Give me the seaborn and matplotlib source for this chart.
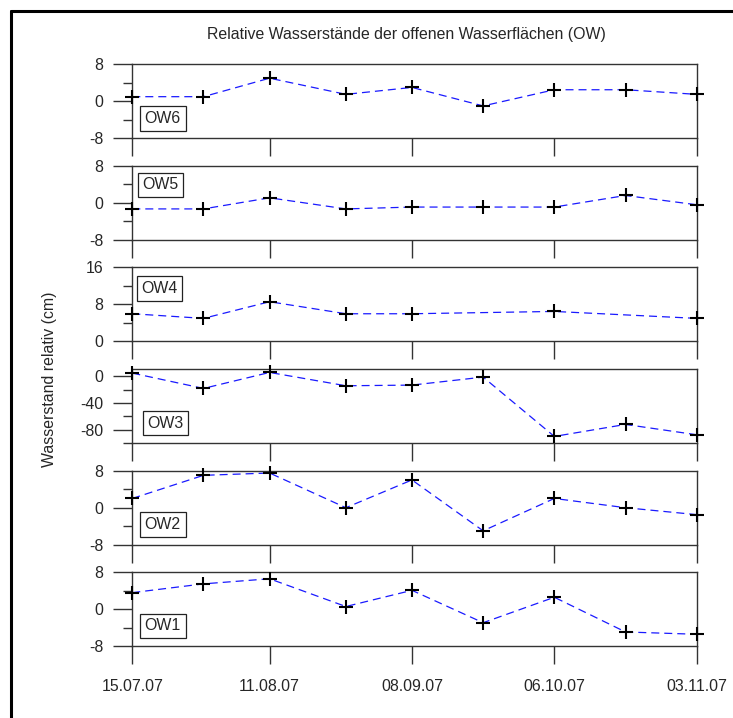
import numpy as np
import pandas as pd
import matplotlib
matplotlib.use("Agg")
import matplotlib.pyplot as plt
import matplotlib.dates as mdates
from matplotlib.lines import Line2D
import seaborn as sns

# ---- data ----
dates = ["2007-07-15", "2007-07-29", "2007-08-11", "2007-08-26", "2007-09-08",
         "2007-09-22", "2007-10-06", "2007-10-20", "2007-11-03"]
ow6 = [1.0, 1.0, 5.0, 1.5, 3.0, -1.0, 2.5, 2.5, 1.5]
ow5 = [-1.3, -1.3, 1.1, -1.3, -0.9, -0.9, -0.9, 1.6, -0.4]
ow4 = [6.0, 5.0, 8.6, 6.0, 6.0, None, 6.5, None, 5.0]
ow3 = [5.0, -18.0, 6.0, -14.0, -13.0, -1.0, -90.0, -72.0, -87.5]
ow2 = [2.0, 7.0, 7.5, 0.0, 6.0, -5.0, 2.0, 0.0, -1.5]
ow1 = [3.6, 5.5, 6.6, 0.6, 4.1, -2.9, 2.6, -4.9, -5.4]

panel_names = ["OW6", "OW5", "OW4", "OW3", "OW2", "OW1"]
panel_values = [ow6, ow5, ow4, ow3, ow2, ow1]
panel_ylims = [(-8, 8), (-8, 8), (0, 16), (-100, 11), (-8, 8), (-8, 8)]
panel_major = [[-8, 0, 8], [-8, 0, 8], [0, 8, 16], [-80, -40, 0], [-8, 0, 8], [-8, 0, 8]]
panel_minor = [[-4, 4], [-4, 4], [4, 12], [-100, -60, -20], [-4, 4], [-4, 4]]
label_pos = [(0.054, 0.265), (0.050, 0.745), (0.048, 0.716), (0.059, 0.27), (0.054, 0.27), (0.054, 0.275)]
tick_dates = ["2007-07-15", "2007-08-11", "2007-09-08", "2007-10-06", "2007-11-03"]
title = "Relative Wasserstände der offenen Wasserflächen (OW)"
ylabel = "Wasserstand relativ (cm)"

# ---- style ----
sns.set_style("white")
plt.rcParams["font.family"] = ["Liberation Sans", "DejaVu Sans"]
plt.rcParams["axes.unicode_minus"] = False
FS = 11.4
SPINE = "#333333"

W, H = 733, 718
fig = plt.figure(figsize=(W / 100, H / 100), dpi=100)

left_px, right_px = 132.3, 696.7
top0, period, height = 64.3, 101.6, 74.0

x0 = pd.Timestamp(dates[0])
x1 = pd.Timestamp(dates[-1])

for i, (name, vals) in enumerate(zip(panel_names, panel_values)):
    top = top0 + i * period
    ax = fig.add_axes([left_px / W, 1 - (top + height) / H,
                       (right_px - left_px) / W, height / H])
    df = pd.DataFrame({"date": pd.to_datetime(dates), "value": vals}).dropna()
    sns.lineplot(data=df, x="date", y="value", ax=ax, color="#1a1aff",
                 linewidth=0.9, linestyle=(0, (6.4, 4.0)), zorder=2)
    sns.scatterplot(data=df, x="date", y="value", ax=ax, marker="+",
                    color="black", s=110, linewidth=1.5, zorder=3, clip_on=False)
    ax.set_xlim(x0, x1)
    ax.set_ylim(*panel_ylims[i])
    ax.set_xlabel("")
    ax.set_ylabel("")
    ax.set_yticks(panel_major[i])
    ax.set_yticks(panel_minor[i], minor=True)
    ax.set_xticks(pd.to_datetime(tick_dates))
    ax.xaxis.set_major_formatter(mdates.DateFormatter("%d.%m.%y"))
    ax.tick_params(axis="y", which="both", left=True, right=False)
    ax.tick_params(axis="x", which="major", bottom=True, top=False)
    ax.tick_params(axis="y", which="major", direction="out", length=13.7,
                   width=1.0, color=SPINE, labelsize=FS, pad=7)
    ax.tick_params(axis="y", which="minor", direction="out", length=6.5,
                   width=1.0, color=SPINE)
    ax.tick_params(axis="x", which="major", direction="out", length=12.8,
                   width=1.0, color=SPINE, labelsize=FS, pad=11)
    ax.tick_params(axis="x", which="minor", length=0)
    if i < len(panel_names) - 1:
        ax.tick_params(axis="x", labelbottom=False)
    for sp in ax.spines.values():
        sp.set_visible(True)
        sp.set_color(SPINE)
        sp.set_linewidth(1.0)
    lx, ly = label_pos[i]
    ax.text(lx, ly, name, transform=ax.transAxes, ha="center", va="center",
            fontsize=FS, zorder=4,
            bbox=dict(boxstyle="square,pad=0.3", facecolor="white",
                      edgecolor="#222222", linewidth=0.9))

fig.text(406.7 / W, 1 - 35 / H, title, ha="center", va="center", fontsize=FS)
fig.text(50 / W, 1 - 379 / H, ylabel, ha="center", va="center",
         rotation=90, fontsize=FS)

# partial outer frame (left and top)
fig.add_artist(Line2D([10.5 / W, 10.5 / W], [0, 1 - 10.5 / H],
                      transform=fig.transFigure, color="black", linewidth=2.2))
fig.add_artist(Line2D([10.5 / W, 1], [1 - 10.5 / H, 1 - 10.5 / H],
                      transform=fig.transFigure, color="black", linewidth=2.2))

fig.savefig("out.png", dpi=100)
